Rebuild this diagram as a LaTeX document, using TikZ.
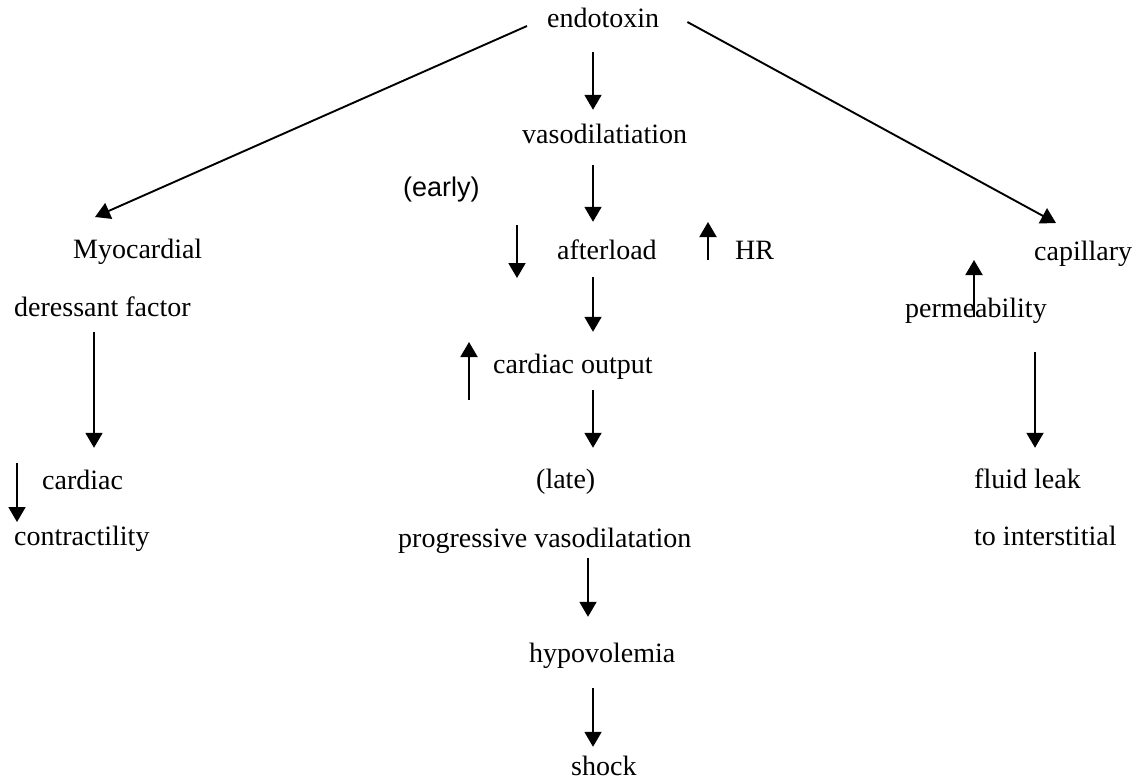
\documentclass[tikz,border=0pt]{standalone}
\usepackage{fontspec}
\setmainfont{Liberation Serif}
\newfontfamily\earlyfont{Liberation Sans}
\usetikzlibrary{arrows.meta}

\begin{document}
\begin{tikzpicture}[x=1pt, y=-1pt,
word/.style={anchor=base west, inner sep=0pt, text height=20pt, text depth=6pt, font=\fontsize{28}{34}\selectfont},
arr/.style={-{Triangle[width=17pt,length=15pt]}, line width=1.9pt},
]
\useasboundingbox (0,0) rectangle (1137,781);
%Columns
\coordinate (leftcol) at (94,0);
\coordinate (midcol) at (593,0);
\coordinate (lowcol) at (588,0);
\coordinate (rightcol) at (1035,0);
\coordinate (myotip) at (95,217);
\coordinate (captip) at (1056,223);

%Nodes
\node[word] (endotoxin)    at (547,28)  {endotoxin};
\node[word] (vaso)         at (522,143) {vasodilatiation};
\node[word, font=\earlyfont\fontsize{27}{32}\selectfont] (early) at (403,196) {(early)};
\node[word] (afterload)    at (557,259) {afterload};
\node[word] (hr)           at (735,259) {HR};
\node[word] (myo)          at (73,258)  {Myocardial};
\node[word] (capillary)    at (1034,260) {capillary};
\node[word] (deressant)    at (14,316)  {deressant factor};
\node[word] (permeability) at (905,317) {permeability};
\node[word] (output)       at (493,373) {cardiac output};
\node[word] (cardiac)      at (42,489)  {cardiac};
\node[word] (late)         at (536,488) {(late)};
\node[word] (fluid)        at (974,488) {fluid leak};
\node[word] (contract)     at (14,545)  {contractility};
\node[word] (progressive)  at (398,547) {progressive vasodilatation};
\node[word] (interstitial) at (974,545) {to interstitial};
\node[word] (hypo)         at (529,662) {hypovolemia};
\node[word] (shock)        at (571,775) {shock};

%Lines
\draw[arr] ([shift={(-20,5)}]endotoxin.west) -- (myotip);
\draw[arr] ([shift={(28,1)}]endotoxin.east) -- (captip);
\draw[arr, shorten <=18pt, shorten >=13pt] (endotoxin.south -| midcol) -- (vaso.north -| midcol);
\draw[arr, shorten <=16pt, shorten >=17pt] (vaso.south -| midcol) -- (afterload.north -| midcol);
\draw[arr, shorten <=12pt, shorten >=21pt] (afterload.south -| midcol) -- (output.north -| midcol);
\draw[arr, shorten <=11pt, shorten >=20pt] (output.south -| midcol) -- (late.north -| midcol);
\draw[arr, shorten <=5pt, shorten >=25pt] (progressive.south -| lowcol) -- (hypo.north -| lowcol);
\draw[arr, shorten <=20pt, shorten >=8pt] (hypo.south -| midcol) -- (shock.north -| midcol);
\draw[arr, shorten <=10pt, shorten >=21pt] (deressant.south -| leftcol) -- (cardiac.north -| leftcol);
\draw[arr, shorten <=29pt, shorten >=20pt] (permeability.south -| rightcol) -- (fluid.north -| rightcol);

%Up and down marks
\draw[arr] ([shift={(-40,-34)}]afterload.base west) -- ++(0,53);
\draw[arr] ([shift={(-27,1)}]hr.base west) -- ++(0,-38);
\draw[arr] ([shift={(-24,27)}]output.base west) -- ++(0,-58);
\draw[arr] ([shift={(-25,-26)}]cardiac.base west) -- ++(0,59);
\draw[arr] ([shift={(69,0)}]permeability.base west) -- ++(0,-57);
\end{tikzpicture}
\end{document}
